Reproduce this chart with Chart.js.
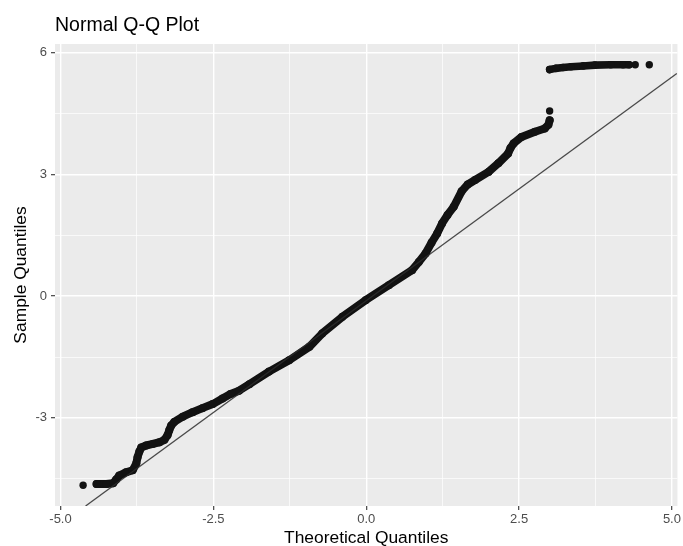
<!DOCTYPE html>
<html><head><meta charset="utf-8">
<script src="https://cdn.jsdelivr.net/npm/chart.js@4.4.1/dist/chart.umd.min.js"></script>
<style>html,body{margin:0;padding:0;background:#fff;} canvas{display:block;}</style>
</head><body>
<canvas id="c" width="683" height="546"></canvas>
<script>
const chartTitle = 'Normal Q-Q Plot';
const xAxisTitle = 'Theoretical Quantiles';
const yAxisTitle = 'Sample Quantiles';

const xMajorTicks = [-5, -2.5, 0, 2.5, 5];
const xTickLabels = ['-5.0', '-2.5', '0.0', '2.5', '5.0'];
const xMinorTicks = [-3.75, -1.25, 1.25, 3.75];
const yMajorTicks = [-3, 0, 3, 6];
const yTickLabels = ['-3', '0', '3', '6'];
const yMinorTicks = [-4.5, -1.5, 1.5, 4.5];
const xLimits = [-5.09, 5.09];
const yLimits = [-5.17, 6.21];

// main continuous run of sample quantiles (theoretical, sample)
const mainX = [-4.41,-4.25,-4.14,-4.09,-4.04,-3.93,-3.82,-3.76,-3.74,-3.71,-3.68,-3.60,-3.49,-3.38,-3.30,-3.25,-3.22,-3.19,-3.14,-3.00,-2.84,-2.68,-2.51,-2.35,-2.22,-2.08,-1.91,-1.59,-1.26,-0.93,-0.72,-0.39,-0.01,0.37,0.75,0.86,0.97,1.07,1.16,1.24,1.33,1.43,1.56,1.66,1.78,2.00,2.16,2.32,2.36,2.41,2.54,2.76,2.92,2.98,3.00];
const mainY = [-4.63,-4.63,-4.61,-4.52,-4.42,-4.34,-4.29,-4.12,-3.97,-3.83,-3.73,-3.68,-3.64,-3.60,-3.54,-3.43,-3.30,-3.19,-3.10,-2.97,-2.86,-2.76,-2.66,-2.52,-2.41,-2.33,-2.17,-1.86,-1.58,-1.25,-0.92,-0.51,-0.10,0.27,0.64,0.84,1.05,1.32,1.54,1.79,2.00,2.20,2.58,2.75,2.86,3.06,3.27,3.51,3.65,3.76,3.92,4.05,4.13,4.22,4.33];
// upper cluster
const topX = [3.00,3.10,3.22,3.35,3.55,3.74,4.00,4.20,4.30];
const topY = [5.58,5.61,5.63,5.65,5.67,5.69,5.70,5.70,5.70];
// isolated points
const loneX = [-4.63, 3.00, 4.40, 4.63];
const loneY = [-4.66, 4.56, 5.70, 5.70];
// reference line end points
const refLineX = [-4.59, 5.08];
const refLineY = [-5.17, 5.485];

const zip = (xs, ys) => xs.map((x, i) => ({x: x, y: ys[i]}));
const FONT = "'Liberation Sans', Arial, Helvetica, sans-serif";
const PT = '#121212';
Chart.defaults.font.family = FONT;

const bgPlugin = {
  id: 'bg',
  beforeDraw(chart) {
    const {ctx, chartArea: a} = chart;
    ctx.save();
    ctx.fillStyle = '#ffffff';
    ctx.fillRect(0, 0, chart.width, chart.height);
    ctx.fillStyle = '#EBEBEB';
    ctx.fillRect(a.left, a.top, a.right - a.left, a.bottom - a.top);
    ctx.restore();
  },
  afterDraw(chart) {
    const {ctx, chartArea: a} = chart;
    ctx.save();
    ctx.fillStyle = '#000000';
    ctx.textBaseline = 'alphabetic';
    ctx.font = '19.5px ' + FONT;
    ctx.textAlign = 'left';
    ctx.fillText(chartTitle, a.left, 31);
    ctx.font = '17.4px ' + FONT;
    ctx.textAlign = 'center';
    ctx.fillText(xAxisTitle, (a.left + a.right) / 2, 542.5);
    ctx.translate(25.5, (a.top + a.bottom) / 2);
    ctx.rotate(-Math.PI / 2);
    ctx.fillText(yAxisTitle, 0, 0);
    ctx.restore();
  }
};

function axisCfg(isX) {
  const major = isX ? xMajorTicks : yMajorTicks;
  const minor = isX ? xMinorTicks : yMinorTicks;
  const labels = isX ? xTickLabels : yTickLabels;
  const lim = isX ? xLimits : yLimits;
  const isMajor = ctx => ctx.tick && major.some(m => Math.abs(m - ctx.tick.value) < 1e-9);
  return {
    type: 'linear',
    position: isX ? 'bottom' : 'left',
    min: lim[0], max: lim[1],
    afterBuildTicks: s => { s.ticks = minor.concat(major).sort((a, b) => a - b).map(v => ({value: v})); },
    afterFit: s => { if (isX) s.height = 40; else s.width = 55; },
    border: {display: false},
    grid: {
      color: '#ffffff',
      lineWidth: ctx => isMajor(ctx) ? 1.4 : 0.7,
      drawTicks: true,
      tickLength: 4,
      tickWidth: 1.1,
      tickColor: ctx => isMajor(ctx) ? '#333333' : 'rgba(0,0,0,0)'
    },
    ticks: {
      autoSkip: false, maxRotation: 0, minRotation: 0,
      padding: isX ? 2 : 4,
      color: '#4D4D4D',
      font: {size: 13, family: FONT},
      callback: v => { const i = major.findIndex(m => Math.abs(m - v) < 1e-9); return i >= 0 ? labels[i] : ''; }
    }
  };
}

new Chart(document.getElementById('c'), {
  type: 'scatter',
  data: {
    datasets: [
      {
        type: 'line', data: zip(refLineX, refLineY), order: 0,
        borderColor: 'rgba(45,45,45,0.85)', borderWidth: 1.3, pointRadius: 0, fill: false, tension: 0
      },
      {
        data: zip(mainX, mainY), order: 1, showLine: true,
        borderColor: PT, backgroundColor: PT, borderWidth: 8,
        borderCapStyle: 'round', borderJoinStyle: 'round',
        pointRadius: 4, pointBorderWidth: 0, tension: 0
      },
      {
        data: zip(topX, topY), order: 1, showLine: true,
        borderColor: PT, backgroundColor: PT, borderWidth: 7.6,
        borderCapStyle: 'round', borderJoinStyle: 'round',
        pointRadius: 3.8, pointBorderWidth: 0, tension: 0
      },
      {
        data: zip(loneX, loneY), order: 1,
        backgroundColor: PT, borderWidth: 0, pointRadius: 3.7
      }
    ]
  },
  options: {
    responsive: false,
    devicePixelRatio: 1,
    animation: false,
    layout: {padding: {top: 44, right: 4, left: 0, bottom: 0}},
    plugins: {legend: {display: false}, title: {display: false}, tooltip: {enabled: false}},
    scales: {x: axisCfg(true), y: axisCfg(false)}
  },
  plugins: [bgPlugin]
});
</script>
</body></html>
